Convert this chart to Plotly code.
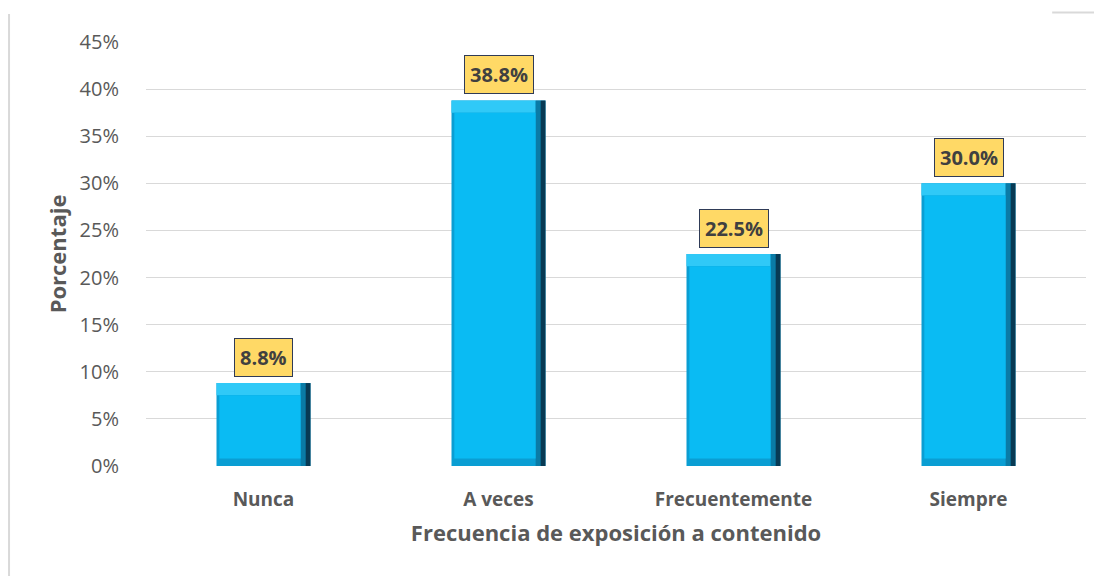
import plotly.graph_objects as go

categories = ["Nunca", "A veces", "Frecuentemente", "Siempre"]
values = [8.8, 38.8, 22.5, 30.0]
y_ticks = [0, 5, 10, 15, 20, 25, 30, 35, 40, 45]
y_tick_labels = [f"{v}%" for v in y_ticks]

# bevel styling (in axis units)
BW = 0.4          # bar width (category units)
TOP = 1.3         # top bevel thickness (% units)
BOT = 0.8         # bottom bevel thickness
RE = 0.021        # right edge strip width
LE = 0.012        # left edge width

def layer(offset, width, base, height, color):
    return go.Bar(
        x=categories, y=height, base=base, offset=offset, width=width,
        marker=dict(color=color, line=dict(width=0)), hoverinfo="skip",
    )

n = len(values)
fig = go.Figure()
# base body (left / bottom edges)
fig.add_trace(layer(-BW / 2, BW, [0] * n, values, "#0A9ED3"))
# top bevel
fig.add_trace(layer(-BW / 2, BW - 2 * RE, [v - TOP for v in values], [TOP] * n, "#30C9F7"))
# right edge (inner, outer)
fig.add_trace(layer(BW / 2 - 2 * RE, RE, [0] * n, values, "#0A7BA6"))
fig.add_trace(layer(BW / 2 - RE, RE, [0] * n, values, "#083A54"))
# face
fig.add_trace(layer(-BW / 2 + LE, BW - LE - 2 * RE, [BOT] * n,
                    [v - TOP - BOT for v in values], "#0ABBF3"))

for c, v in zip(categories, values):
    fig.add_annotation(
        x=c, y=v, text=f"<b>{v:.1f}%</b>", showarrow=False,
        yanchor="bottom", yshift=6,
        font=dict(family="Open Sans", size=20, color="#404040"),
        bgcolor="#FFD966", bordercolor="#2F3B57", borderwidth=1, borderpad=5,
    )

fig.update_layout(
    width=1094, height=568,
    margin=dict(l=138, r=16, t=34, b=110),
    paper_bgcolor="white", plot_bgcolor="white",
    showlegend=False, barmode="overlay",
    font=dict(family="Open Sans", color="#595959"),
    xaxis=dict(
        tickfont=dict(size=19, color="#595959", family="Open Sans"),
        tickprefix="<b>", ticksuffix="</b>",
        ticks="outside", ticklen=16, tickcolor="white",
        title=dict(text="<b>Frecuencia de exposición a contenido</b>",
                   font=dict(size=22, color="#595959"), standoff=14),
        showline=False,
    ),
    yaxis=dict(
        range=[0, 45], tickvals=y_ticks, ticktext=y_tick_labels,
        tickfont=dict(size=20, color="#595959"),
        gridcolor="#D9D9D9", gridwidth=1, zeroline=False,
        ticks="outside", ticklen=22, tickcolor="white",
        title=dict(text="<b>Porcentaje</b>", font=dict(size=22, color="#595959"), standoff=6),
    ),
    shapes=[
        dict(type="line", xref="paper", yref="paper", x0=-0.1457, x1=-0.1457, y0=-0.3, y1=1.066,
             line=dict(color="#D9D9D9", width=2)),
        dict(type="line", xref="paper", yref="paper", x0=0.964, x1=1.015, y0=1.0696, y1=1.0696,
             line=dict(color="#D9D9D9", width=2)),
    ],
)
fig.write_html("out.html")
